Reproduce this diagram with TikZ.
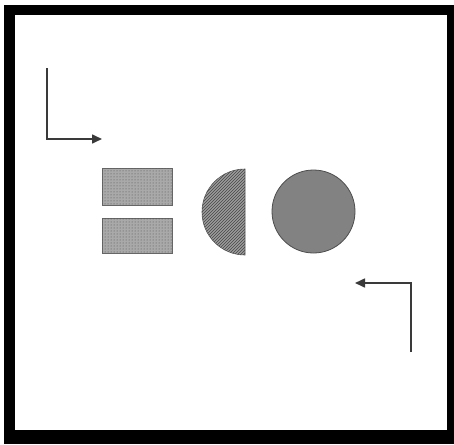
\documentclass[tikz,border=0pt]{standalone}
\usetikzlibrary{arrows.meta,patterns}
\definecolor{rectgray}{HTML}{A9A9A9}
\definecolor{halfgray}{HTML}{9C9C9C}
\definecolor{circgray}{HTML}{828282}
\definecolor{linegray}{HTML}{3A3A3A}
\tikzset{
  flow/.style={draw=linegray,line width=1.6pt,-{Triangle[length=10pt,width=9pt]}},
  blockshape/.style={fill=rectgray,draw=gray!80!black,line width=0.6pt},
}
\begin{document}
\begin{tikzpicture}[x=1pt,y=-1pt]
\useasboundingbox (0,0) rectangle (454,444);
\fill[white] (0,0) rectangle (454,444);
\fill[black] (4,5) rectangle (454,444);
\fill[white] (15,15) rectangle (447,430);
% top-left arrow
\coordinate (a1) at (47,68);
\coordinate (a2) at (47,139);
\coordinate (a3) at (102,139);
\draw[flow] (a1) -- (a2) -- (a3);
% rectangles
\path[blockshape] (102,168) rectangle (172,205);
\path[blockshape] (102,218) rectangle (172,253);
\path[pattern=dots,pattern color=gray!60!black] (102,168) rectangle (172,205);
\path[pattern=dots,pattern color=gray!60!black] (102,218) rectangle (172,253);
% half disc
\path[fill=halfgray,draw=gray!70!black,line width=0.6pt] (245,169) arc[start angle=270,end angle=90,radius=43] -- cycle;
\path[pattern=north east lines,pattern color=gray!55!black] (245,169) arc[start angle=270,end angle=90,radius=43] -- cycle;
% circle
\path[fill=circgray,draw=gray!60!black,line width=0.8pt] (313.5,211.5) circle[radius=41.5];
% bottom-right arrow
\coordinate (b1) at (411,352);
\coordinate (b2) at (411,283);
\coordinate (b3) at (355,283);
\draw[flow] (b1) -- (b2) -- (b3);
\end{tikzpicture}
\end{document}
